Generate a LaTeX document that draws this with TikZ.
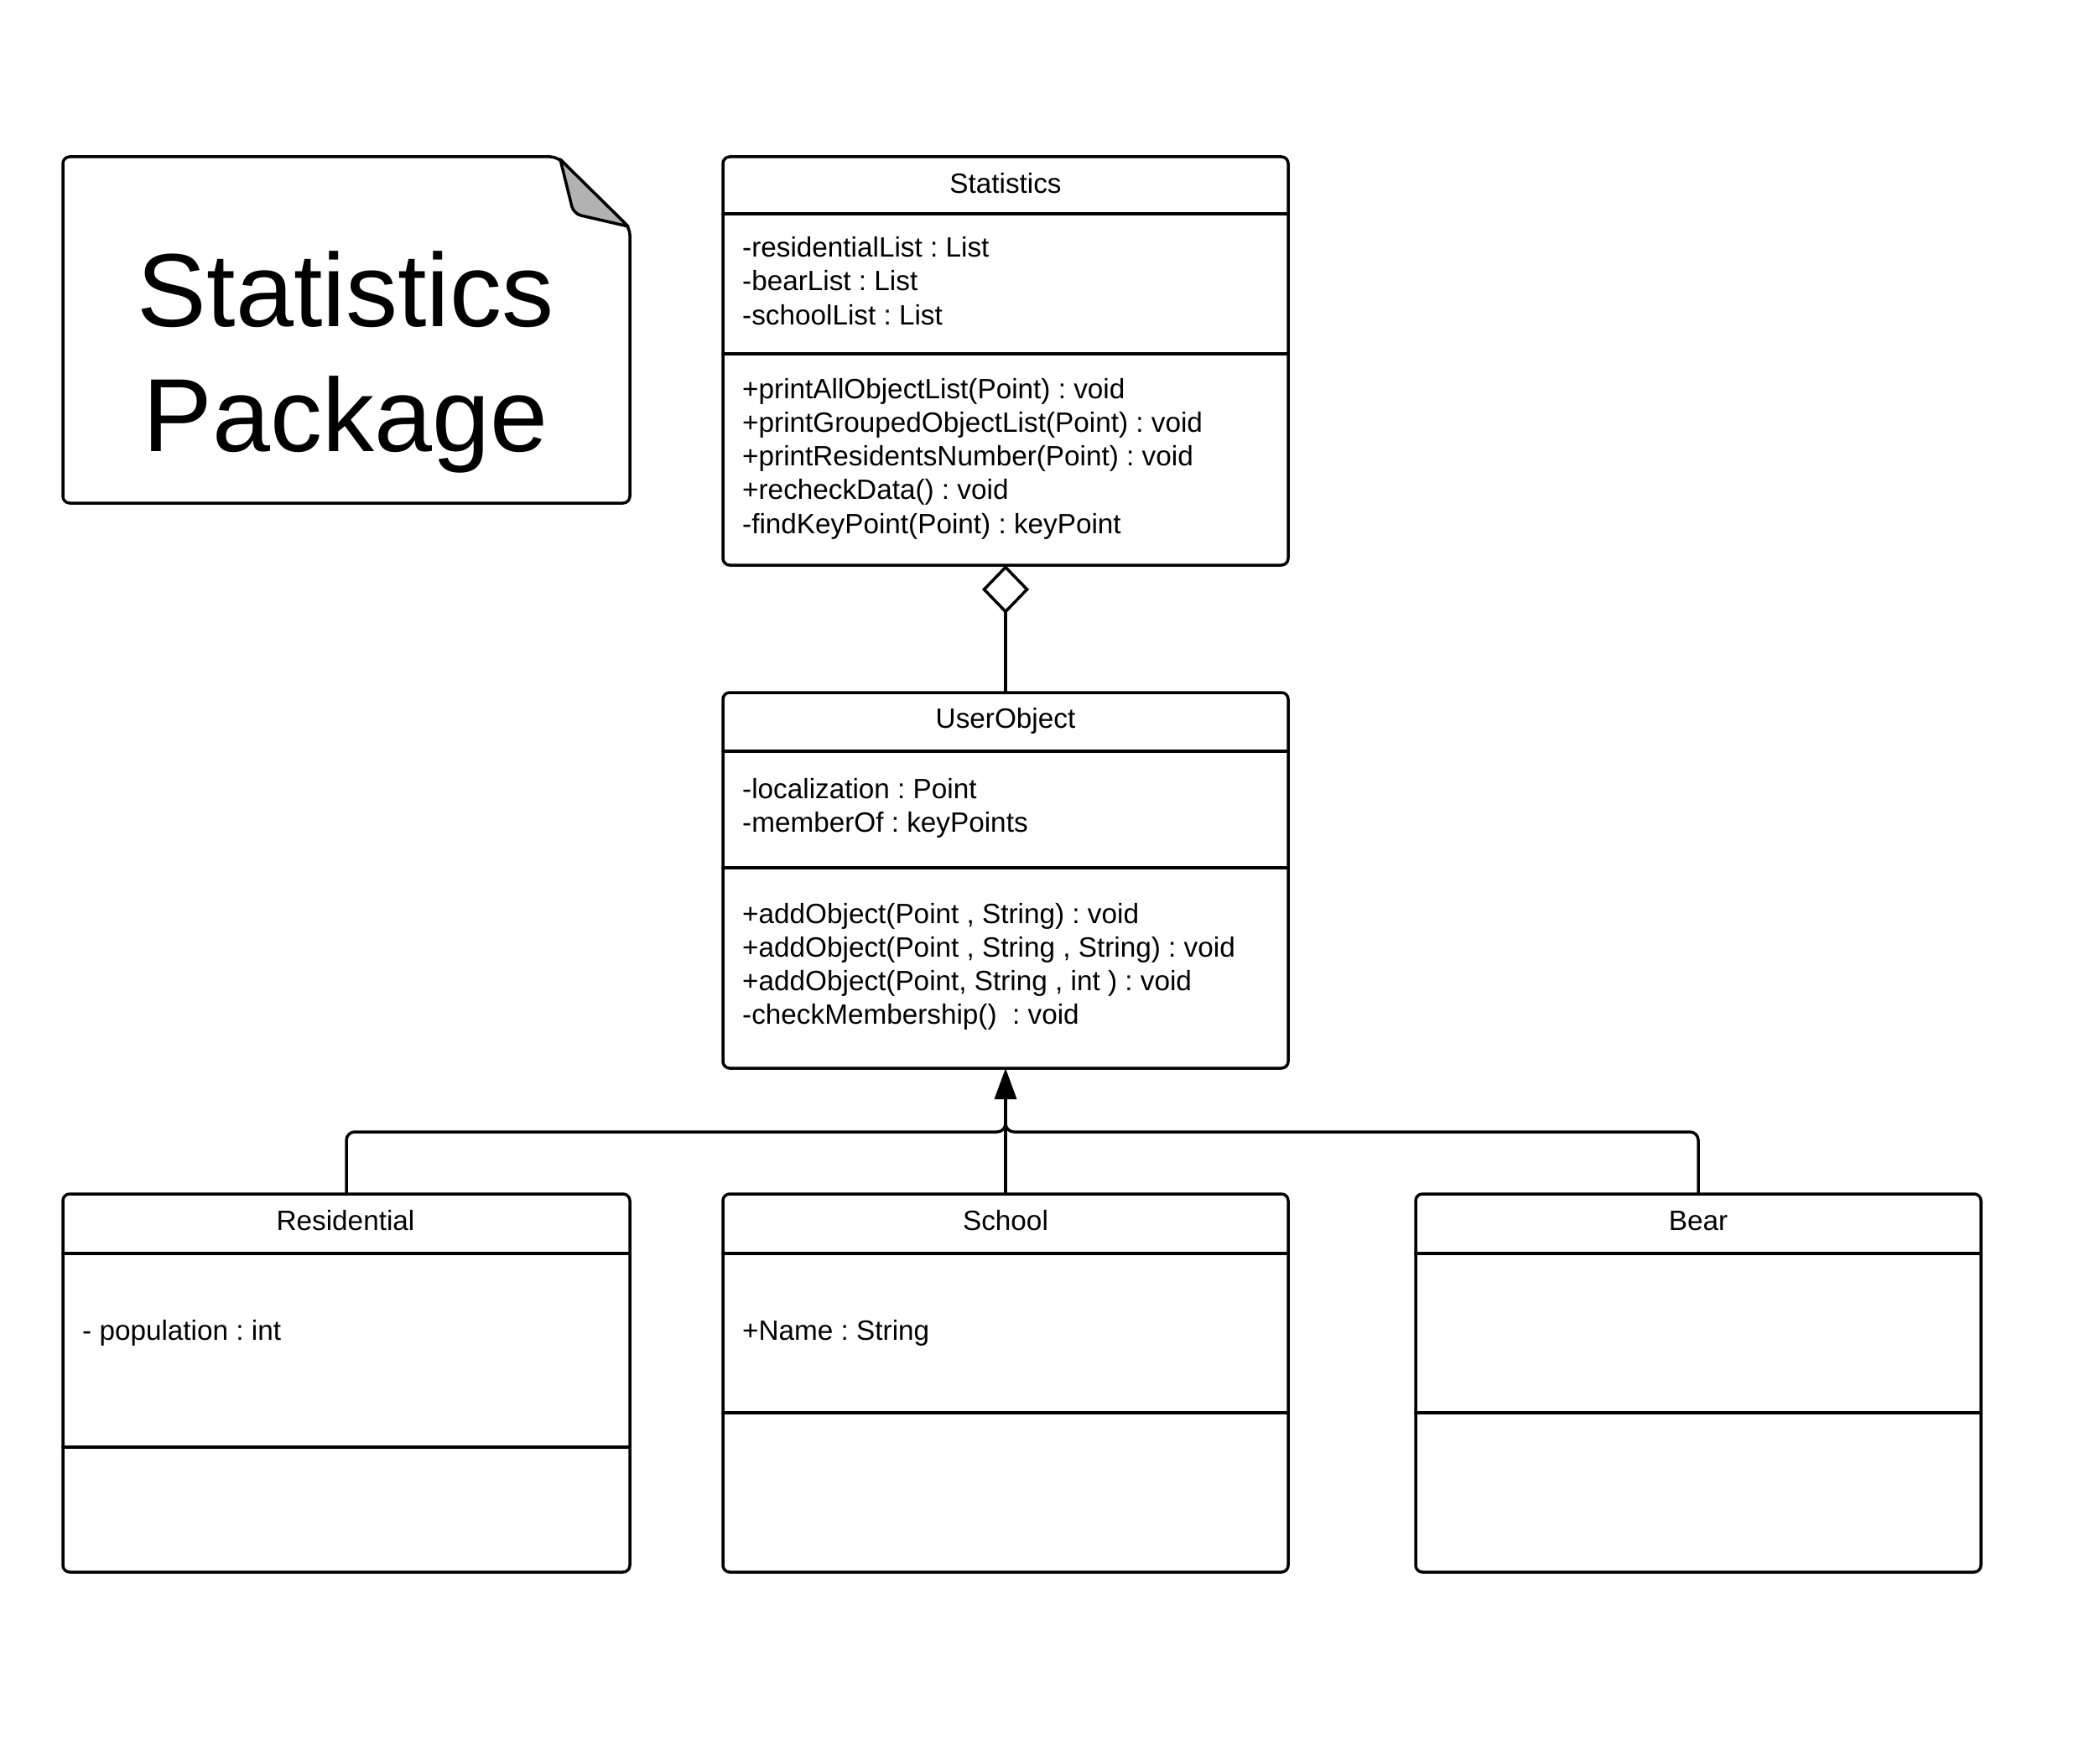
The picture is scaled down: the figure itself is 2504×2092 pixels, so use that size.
\documentclass[tikz,border=0pt]{standalone}
\usepackage{fontspec}
\setmainfont{Liberation Sans}
\usetikzlibrary{arrows.meta}
\frenchspacing

\tikzset{
  classbox/.style={draw,line width=3.5pt,rounded corners=8pt,anchor=north west,
    inner sep=0pt,outer sep=0pt,minimum width=674pt},
  sepline/.style={line width=3.5pt},
  ctitle/.style={anchor=base,inner sep=0pt,font=\fontsize{33.3}{40}\selectfont},
  member/.style={anchor=base west,inner sep=0pt,font=\fontsize{33.3}{40}\selectfont},
  bigtext/.style={anchor=base,inner sep=0pt,font=\fontsize{124}{147}\selectfont},
  genline/.style={line width=3.5pt,rounded corners=10pt},
}

\begin{document}
\begin{tikzpicture}[x=1pt,y=-1pt,line cap=round,line join=round]
  \useasboundingbox (0,0) rectangle (2504,2092);

  % package note
  \draw[line width=3.5pt,rounded corners=8pt] (75,187) -- (664,187) -- (751,272)
    -- (751,600) -- (75,600) -- cycle;
  \filldraw[fill=black!30,line width=3.5pt] (668,190) [rounded corners=9pt] -- (684,255)
    [sharp corners] -- (749,270) -- cycle;
  \node[bigtext] (pkg1) at (412,389) {Statistics};
  \node[bigtext] (pkg2) at (412,538) {Package};

  % classes
  \node[classbox,minimum height=487pt] (stat) at (862,187) {};
  \node[classbox,minimum height=448pt] (user) at (862,826) {};
  \node[classbox,minimum height=451pt,minimum width=676pt] (res) at (75,1424) {};
  \node[classbox,minimum height=451pt] (school) at (862,1424) {};
  \node[classbox,minimum height=451pt] (bear) at (1688,1424) {};

  \draw[sepline] (862,255) -- (1536,255);
  \draw[sepline] (862,422) -- (1536,422);
  \draw[sepline] (862,896) -- (1536,896);
  \draw[sepline] (862,1035) -- (1536,1035);
  \draw[sepline] (75,1495) -- (751,1495);
  \draw[sepline] (75,1726) -- (751,1726);
  \draw[sepline] (862,1495) -- (1536,1495);
  \draw[sepline] (862,1685) -- (1536,1685);
  \draw[sepline] (1688,1495) -- (2362,1495);
  \draw[sepline] (1688,1685) -- (2362,1685);

  % names
  \node[ctitle] (statname) at (1199,231) {Statistics};
  \node[ctitle] (username) at (1199,868) {UserObject};
  \node[ctitle] (resname) at (412,1467) {Residential};
  \node[ctitle] (schoolname) at (1199,1467) {School};
  \node[ctitle] (bearname) at (2025,1467) {Bear};

  % members
  \foreach \t [count=\i] in {{-residentialList : List},{-bearList : List},{-schoolList : List}}
    \node[member] (sa\i) at (885,{307+40*(\i-1)}) {\t};
  \foreach \t [count=\i] in {{+printAllObjectList(Point) : void},
      {+printGroupedObjectList(Point) : void},{+printResidentsNumber(Point) : void},
      {+recheckData() : void},{-findKeyPoint(Point) : keyPoint}}
    \node[member] (sm\i) at (885,{475+40.3*(\i-1)}) {\t};
  \foreach \t [count=\i] in {{-localization : Point},{-memberOf : keyPoints}}
    \node[member] (ua\i) at (885,{952+40*(\i-1)}) {\t};
  \foreach \t [count=\i] in {{+addObject(Point , String) : void},
      {+addObject(Point , String , String) : void},{+addObject(Point, String , int ) : void},
      {-checkMembership()\ \ : void}}
    \node[member] (um\i) at (885,{1101+40.3*(\i-1)}) {\t};
  \node[member] (ra1) at (98,1598) {- population : int};
  \node[member] (sca1) at (885,1598) {+Name : String};

  % aggregation
  \draw[line width=3.5pt,{Diamond[open,length=58pt,width=56pt]}-] (stat.south) -- (user.north);

  % generalization
  \coordinate (join) at (1199,1350);
  \draw[genline] (res.north) |- (join) -- ([yshift=-37pt]user.south);
  \draw[genline] (bear.north) |- (join) -- ([yshift=-37pt]user.south);
  \draw[line width=3.5pt,-{Triangle[length=37pt,width=26pt]}] (school.north) -- (user.south);
\end{tikzpicture}
\end{document}
